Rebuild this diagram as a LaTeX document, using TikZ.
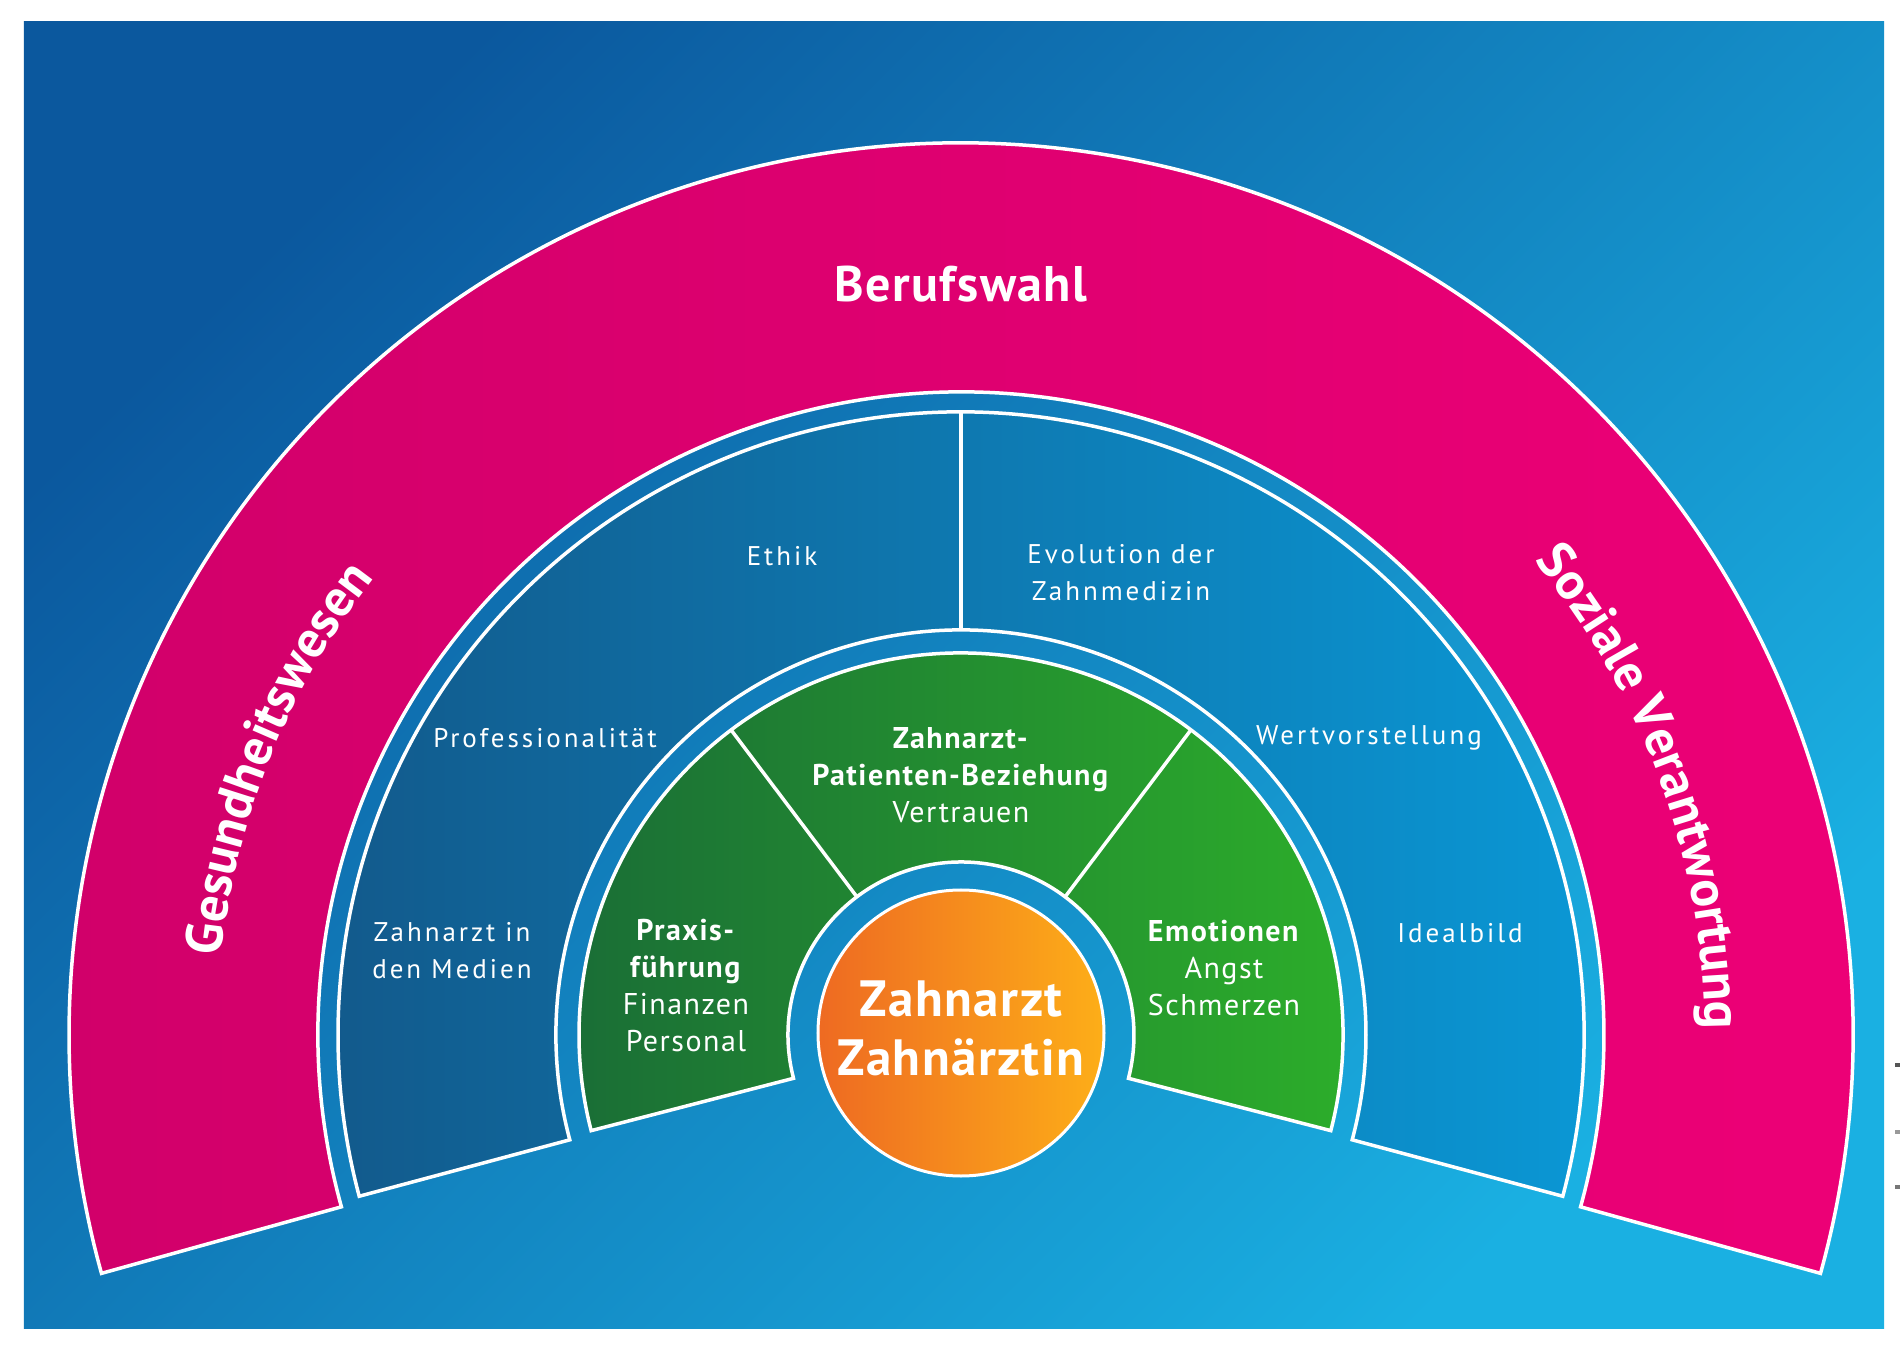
\documentclass[tikz,border=0pt]{standalone}
\usepackage{fontspec}
\setmainfont{PT Sans}
\newfontfamily\smallfont[LetterSpace=11]{PT Sans}
\newfontfamily\greenfont[LetterSpace=5]{PT Sans}
\newfontfamily\bigfont[LetterSpace=3]{PT Sans}
\usetikzlibrary{decorations.text}
\definecolor{bgdark}{HTML}{0B589E}
\definecolor{bglight}{HTML}{1AB0E2}
\definecolor{pinkL}{HTML}{D1006A}
\definecolor{pinkR}{HTML}{EE0077}
\definecolor{blueL}{HTML}{125A8C}
\definecolor{blueR}{HTML}{0A9AD8}
\definecolor{greenL}{HTML}{1A6E36}
\definecolor{greenR}{HTML}{2DB02A}
\definecolor{orangeL}{HTML}{EE6A22}
\definecolor{orangeR}{HTML}{FDAE18}
\definecolor{markgray}{HTML}{555555}
\tikzset{
  outline/.style={draw=white, line width=3.5},
  divider/.style={draw=white, line width=3.5},
  small/.style={text=white, align=center, font=\smallfont\fontsize{27}{37}\selectfont},
  greentext/.style={text=white, align=center, font=\greenfont\fontsize{30}{37}\selectfont},
  bigtext/.style={text=white, align=center, font=\bigfont\bfseries\fontsize{51}{59}\selectfont},
  arclabel/.style={decorate, decoration={text along path, text align=center, text color=white, text={|\bfseries\fontsize{52}{60}\selectfont|#1}}}
}
\begin{document}
\begin{tikzpicture}[x=1pt,y=1pt]
\useasboundingbox (-961,-309) rectangle (939,1035);
\fill[white] (-961,-309) rectangle (939,1035);
% background
\shade[top color=bgdark, bottom color=bglight, shading angle=45] (-937,-293) rectangle (923,1013);
% small margin marks
\fill[markgray] (934,-32) rectangle (939,-28);
\fill[markgray!60] (934,-99) rectangle (939,-95);
\fill[markgray!80] (934,-154) rectangle (939,-150);
% outer pink ring
\path[outline, left color=pinkL, right color=pinkR]
  (-15.5:892) arc[start angle=-15.5, end angle=195.5, radius=892]
  -- (195.5:643) arc[start angle=195.5, end angle=-15.5, radius=643] -- cycle;
% blue ring
\path[outline, left color=blueL, right color=blueR]
  (-15:623) arc[start angle=-15, end angle=195, radius=623]
  -- (195:405) arc[start angle=195, end angle=-15, radius=405] -- cycle;
\draw[divider] (90:405) -- (90:623);
% green ring
\path[outline, left color=greenL, right color=greenR]
  (-14.5:382) arc[start angle=-14.5, end angle=194.5, radius=382]
  -- (194.5:173) arc[start angle=194.5, end angle=-14.5, radius=173] -- cycle;
\draw[divider] (53:173) -- (53:382);
\draw[divider] (127:173) -- (127:382);
% orange centre
\path[outline, line width=3, left color=orangeL, right color=orangeR] (0,2) circle[radius=143];
% labels on the pink ring
\node[text=white, font=\bigfont\bfseries\fontsize{50}{60}\selectfont, anchor=base] (berufswahl) at (0,733) {Berufswahl};
\path[arclabel={Gesundheitswesen}] (178:744) arc[start angle=178, end angle=138, radius=744];
\path[arclabel={Soziale Verantwortung}] (46:744) arc[start angle=46, end angle=-6, radius=744];
% blue ring texts
\node[small] (ethik) at (-179,479) {Ethik};
\node[small] (evolution) at (160,462) {Evolution der\\Zahnmedizin};
\node[small] (prof) at (-416,297) {Professionalität};
\node[small] (wert) at (408,297) {Wertvorstellung};
\node[small] (medien) at (-509,84) {Zahnarzt in\\den Medien};
\node[small] (ideal) at (499,102) {Idealbild};
% green ring texts
\node[greentext] (beziehung) at (0,260) {\textbf{Zahnarzt-}\\\textbf{Patienten-Beziehung}\\Vertrauen};
\node[greentext] (praxis) at (-275,49) {\textbf{Praxis-}\\\textbf{führung}\\Finanzen\\Personal};
\node[greentext] (emotionen) at (263,67) {\textbf{Emotionen}\\Angst\\Schmerzen};
% centre text
\node[bigtext] (zahnarzt) at (0,6) {Zahnarzt\\Zahnärztin};
\end{tikzpicture}
\end{document}
